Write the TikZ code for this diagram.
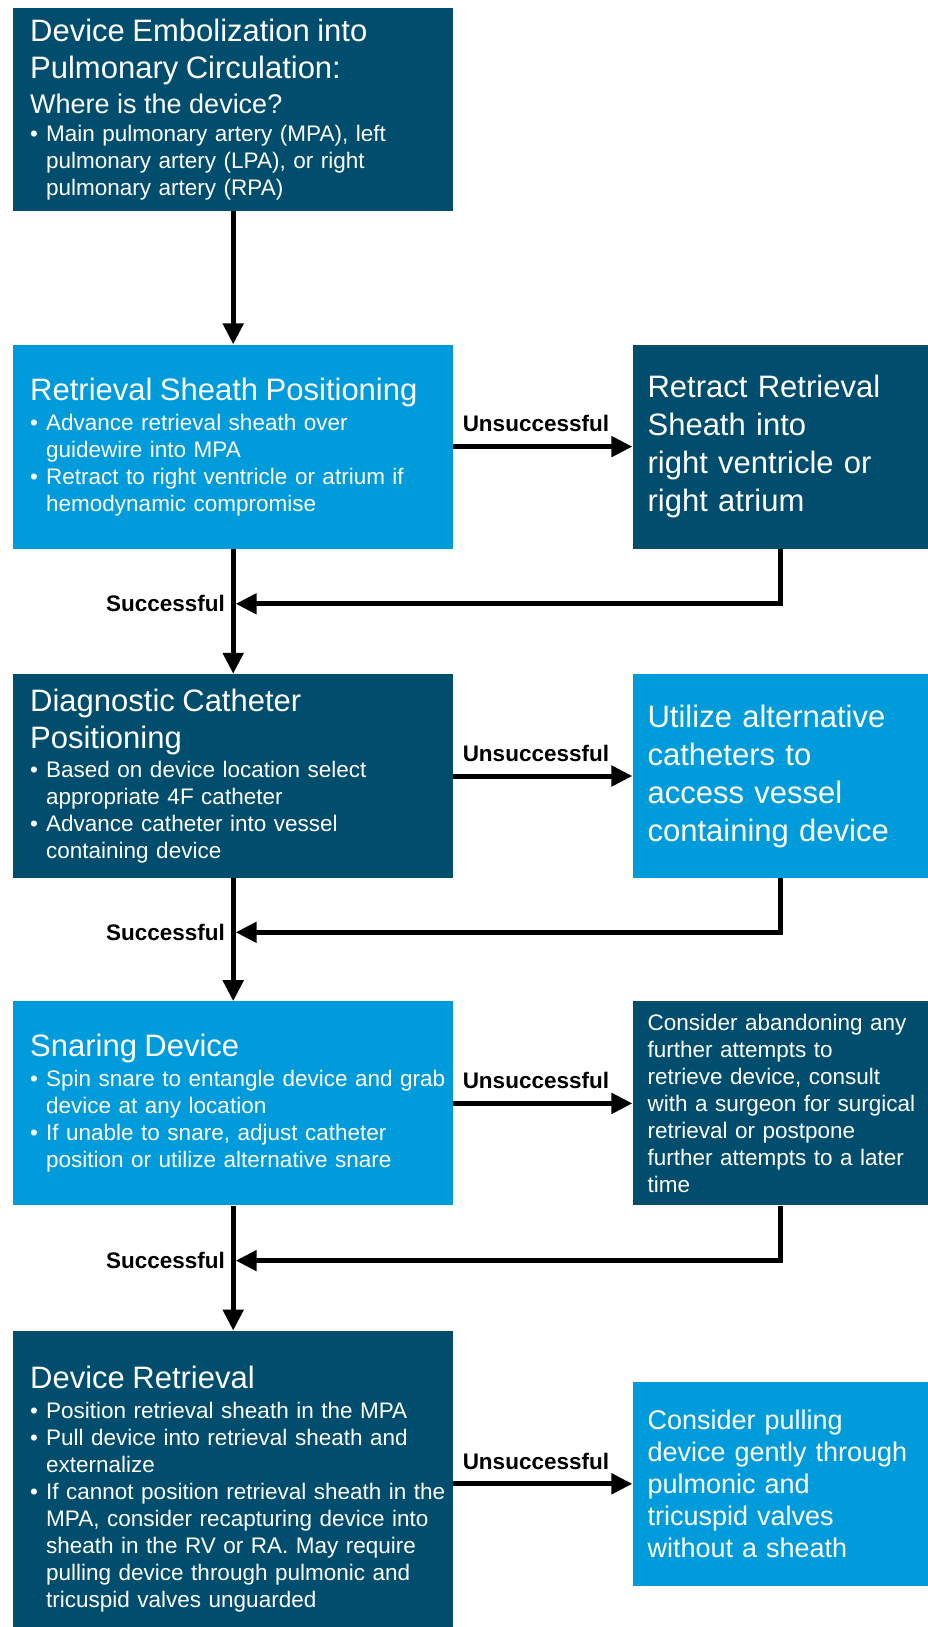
\documentclass[tikz,border=0pt]{standalone}
\usepackage{fontspec}
\setmainfont{Liberation Sans}
\usetikzlibrary{arrows.meta, positioning, calc}
\definecolor{navyblue}{RGB}{0,77,110}
\definecolor{skyblue}{RGB}{0,155,218}
\setlength{\parindent}{0pt}
\newcommand{\ttl}{\fontsize{31}{37}\selectfont}
\newcommand{\bpt}[1]{\mbox{\makebox[16pt][l]{\textbullet}#1}}
\newcommand{\bnx}[1]{\mbox{\hspace*{16pt}#1}}

\begin{document}
\begin{tikzpicture}[
    font=\fontsize{22.5}{27}\selectfont,
    mainstep/.style = {
        rectangle, text=white, align=left,
        inner xsep=17pt, inner ysep=0pt, text width=406pt
    },
    sidestep/.style = {
        rectangle, text=white, align=left,
        inner xsep=15pt, inner ysep=0pt, text width=266pt
    },
    arr/.style = {-{Triangle[length=21pt, width=20pt]}, line width=5pt},
    ann/.style = {font=\fontsize{22.5}{27}\selectfont\bfseries, inner sep=2pt},
]
\useasboundingbox (0,0) rectangle (928pt,-1627pt);

\node[mainstep, fill=navyblue, minimum height=203pt, anchor=north west] (emb) at (13pt,-8pt) {%
  {\ttl Device Embolization into\\Pulmonary Circulation:\par}
  {\fontsize{27}{35}\selectfont Where is the device?\par}\vspace{1pt}
  \bpt{Main pulmonary artery (MPA), left}\\
  \bnx{pulmonary artery (LPA), or right}\\
  \bnx{pulmonary artery (RPA)}};

\node[mainstep, fill=skyblue, minimum height=204pt, below=133pt of emb] (sheath) {%
  {\ttl Retrieval Sheath Positioning\par}\vspace{3pt}
  \bpt{Advance retrieval sheath over}\\
  \bnx{guidewire into MPA}\\
  \bpt{Retract to right ventricle or atrium if}\\
  \bnx{hemodynamic compromise}};
\node[sidestep, fill=navyblue, minimum height=204pt, right=179pt of sheath,
      font=\fontsize{31}{38}\selectfont] (retract)
  {Retract Retrieval\\Sheath into\\right ventricle or\\right atrium};

\node[mainstep, fill=navyblue, minimum height=204pt, below=125pt of sheath] (cath) {%
  {\ttl Diagnostic Catheter\\Positioning\par}\vspace{2pt}
  \bpt{Based on device location select}\\
  \bnx{appropriate 4F catheter}\\
  \bpt{Advance catheter into vessel}\\
  \bnx{containing device}};
\node[sidestep, fill=skyblue, minimum height=204pt, right=179pt of cath,
      font=\fontsize{31}{38}\selectfont] (altcath)
  {Utilize alternative\\catheters to\\access vessel\\containing device};

\node[mainstep, fill=skyblue, minimum height=204pt, below=123pt of cath] (snare) {%
  {\ttl Snaring Device\par}\vspace{3pt}
  \bpt{Spin snare to entangle device and grab}\\
  \bnx{device at any location}\\
  \bpt{If unable to snare, adjust catheter}\\
  \bnx{position or utilize alternative snare}};
\node[sidestep, fill=navyblue, minimum height=204pt, right=179pt of snare] (abandon)
  {Consider abandoning any\\further attempts to\\retrieve device, consult\\\mbox{with a surgeon for surgical}\\retrieval or postpone\\further attempts to a later\\time};

\node[mainstep, fill=navyblue, minimum height=317pt, below=125pt of snare] (retr) {%
  {\ttl Device Retrieval\par}\vspace{3pt}
  \bpt{Position retrieval sheath in the MPA}\\
  \bpt{Pull device into retrieval sheath and}\\
  \bnx{externalize}\\
  \bpt{If cannot position retrieval sheath in the}\\
  \bnx{MPA, consider recapturing device into}\\
  \bnx{sheath in the RV or RA. May require}\\
  \bnx{pulling device through pulmonic and}\\
  \bnx{tricuspid valves unguarded}};
\node[sidestep, fill=skyblue, minimum height=204pt, right=179pt of retr, yshift=5.5pt,
      font=\fontsize{27}{32}\selectfont] (pull)
  {Consider pulling\\device gently through\\pulmonic and\\tricuspid valves\\without a sheath};

% main line
\draw[arr] (emb) -- (sheath);
\draw[arr] (sheath) -- (cath);
\draw[arr] (cath) -- (snare);
\draw[arr] (snare) -- (retr);

% failure branches
\draw[arr] (sheath) -- (retract) node[midway, above=10pt, xshift=-7pt, ann]{Unsuccessful};
\draw[arr] (cath) -- (altcath) node[midway, above=10pt, xshift=-7pt, ann]{Unsuccessful};
\draw[arr] (snare) -- (abandon) node[midway, above=10pt, xshift=-7pt, ann]{Unsuccessful};
\draw[arr] (retr.east |- pull.west) -- (pull.west) node[midway, above=10pt, xshift=-7pt, ann]{Unsuccessful};

% back into the main line
\coordinate (j1) at ($(sheath.south)!0.44!(cath.north)$);
\coordinate (j2) at ($(cath.south)!0.44!(snare.north)$);
\coordinate (j3) at ($(snare.south)!0.44!(retr.north)$);
\draw[arr] (retract.south) |- ([xshift=2.5pt]j1);
\draw[arr] (altcath.south) |- ([xshift=2.5pt]j2);
\draw[arr] (abandon.south) |- ([xshift=2.5pt]j3);
\node[ann, left=6pt of j1] {Successful};
\node[ann, left=6pt of j2] {Successful};
\node[ann, left=6pt of j3] {Successful};

\end{tikzpicture}
\end{document}
